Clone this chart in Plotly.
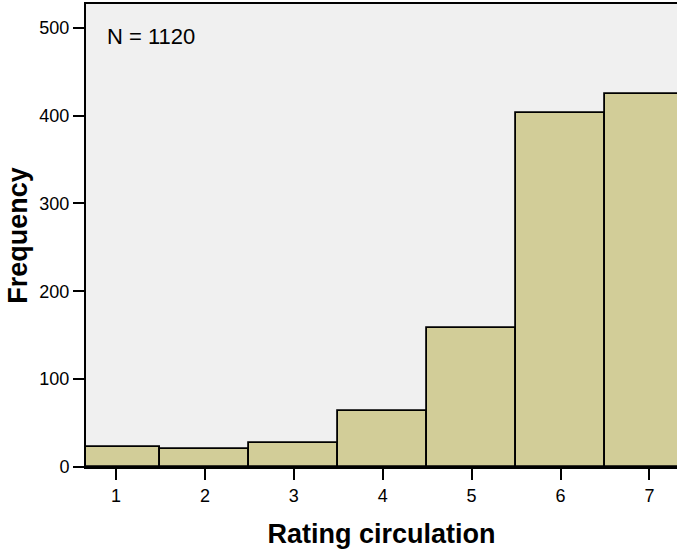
import plotly.graph_objects as go

ratings = [1, 2, 3, 4, 5, 6, 7]
frequency = [23, 21, 27, 64, 158, 403, 424]
y_ticks = [0, 100, 200, 300, 400, 500]

fig = go.Figure(go.Bar(
    x=ratings,
    y=frequency,
    width=1,
    marker=dict(color='#D2CD98', line=dict(color='black', width=1.8)),
))

fig.update_layout(
    width=677, height=553,
    paper_bgcolor='white',
    plot_bgcolor='#F0F0F0',
    font=dict(family='Liberation Sans, Arial, sans-serif', color='black'),
    margin=dict(l=86, r=0, t=4, b=86),
    showlegend=False,
    bargap=0,
)

fig.update_xaxes(
    range=[0.663, 7.31],
    tickvals=ratings,
    ticks='outside', ticklen=11, tickwidth=2, tickcolor='black',
    tickfont=dict(size=18),
    showline=True, linecolor='black', linewidth=2, mirror=True,
    showgrid=False, zeroline=False,
    title=dict(text='Rating circulation', font=dict(size=27, weight='bold'), standoff=20),
)

fig.update_yaxes(
    range=[0, 527],
    tickvals=y_ticks,
    ticks='outside', ticklen=11, tickwidth=2, tickcolor='black',
    tickfont=dict(size=18),
    showline=True, linecolor='black', linewidth=2,
    showgrid=False, zeroline=False,
    title=dict(text='Frequency', font=dict(size=27, weight='bold'), standoff=4),
)

fig.add_annotation(
    text='N = 1120', xref='paper', yref='paper', x=0.032, y=0.929,
    xanchor='left', yanchor='middle', showarrow=False,
    font=dict(size=22, color='black'),
)

# drop the default 8px body margin so the figure sits at the window edge
fig.write_html(
    'out.html',
    config={'displayModeBar': False},
    post_script="document.body.style.margin='0';document.body.style.overflow='hidden';",
)
